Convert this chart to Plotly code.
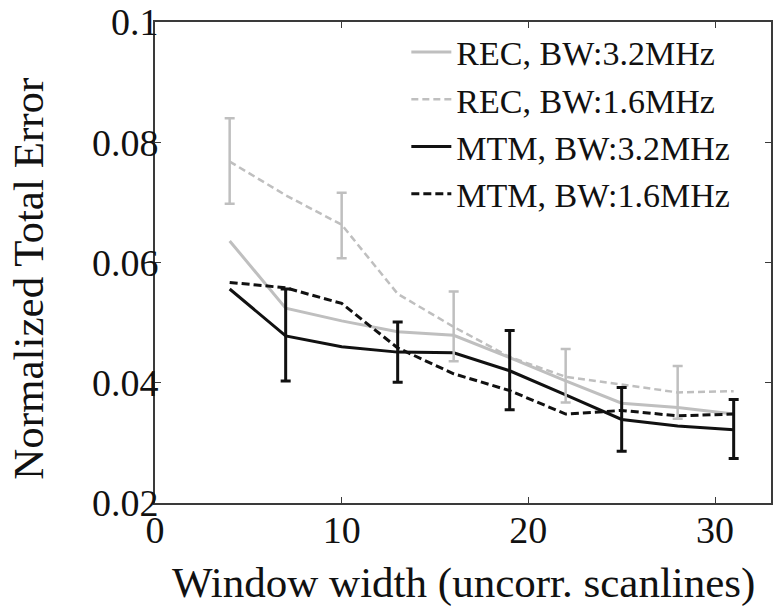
import plotly.graph_objects as go

# Data
window_width = [4, 7, 10, 13, 16, 19, 22, 25, 28, 31]
rec_32 = [0.0636, 0.0524, 0.0503, 0.0485, 0.0479, 0.0442, 0.0403, 0.0366, 0.0359, 0.0348]
rec_16 = [0.0768, 0.0712, 0.0663, 0.0548, 0.0493, 0.0443, 0.0410, 0.0397, 0.0384, 0.0386]
mtm_32 = [0.0556, 0.0478, 0.0460, 0.0451, 0.0450, 0.0420, 0.0380, 0.0339, 0.0328, 0.0322]
mtm_16 = [0.0567, 0.0558, 0.0532, 0.0458, 0.0415, 0.0387, 0.0348, 0.0354, 0.0345, 0.0348]

# Error bar ranges (absolute low / high)
rec_16_err_x = [4, 10, 16, 22, 28]
rec_16_err_lo = [0.0698, 0.0607, 0.0436, 0.0367, 0.0340]
rec_16_err_hi = [0.0840, 0.0716, 0.0552, 0.0456, 0.0428]
mtm_32_err_x = [7, 13, 19, 25, 31]
mtm_32_err_lo = [0.0403, 0.0401, 0.0355, 0.0286, 0.0274]
mtm_32_err_hi = [0.0556, 0.0501, 0.0487, 0.0392, 0.0372]

x_ticks = [0, 10, 20, 30]
y_ticks = [0.02, 0.04, 0.06, 0.08, 0.1]
y_tick_text = ["0.02", "0.04", "0.06", "0.08", "0.1"]

legend_names = ["REC, BW:3.2MHz", "REC, BW:1.6MHz", "MTM, BW:3.2MHz", "MTM, BW:1.6MHz"]
x_title = "Window width (uncorr. scanlines)"
y_title = "Normalized Total Error"

GRAY = "#bfbfbf"
BLACK = "#111111"
FONT = "Liberation Serif"


def centers(err_x, series):
    return [series[window_width.index(v)] for v in err_x]


fig = go.Figure()

rec16_c = centers(rec_16_err_x, rec_16)
mtm32_c = centers(mtm_32_err_x, mtm_32)

fig.add_trace(go.Scatter(x=window_width, y=rec_32, mode="lines", name=legend_names[0],
                         line=dict(color=GRAY, width=3)))
fig.add_trace(go.Scatter(x=window_width, y=rec_16, mode="lines", name=legend_names[1],
                         line=dict(color=GRAY, width=2.5, dash="7px,4px")))
fig.add_trace(go.Scatter(x=window_width, y=mtm_32, mode="lines", name=legend_names[2],
                         line=dict(color=BLACK, width=3)))
fig.add_trace(go.Scatter(x=window_width, y=mtm_16, mode="lines", name=legend_names[3],
                         line=dict(color=BLACK, width=3, dash="8px,4px")))

# error bars
fig.add_trace(go.Scatter(
    x=rec_16_err_x, y=rec16_c, mode="markers", showlegend=False,
    marker=dict(size=1, color="rgba(0,0,0,0)"),
    error_y=dict(type="data", symmetric=False,
                 array=[h - c for h, c in zip(rec_16_err_hi, rec16_c)],
                 arrayminus=[c - l for l, c in zip(rec_16_err_lo, rec16_c)],
                 color=GRAY, thickness=2.5, width=5)))
fig.add_trace(go.Scatter(
    x=mtm_32_err_x, y=mtm32_c, mode="markers", showlegend=False,
    marker=dict(size=1, color="rgba(0,0,0,0)"),
    error_y=dict(type="data", symmetric=False,
                 array=[h - c for h, c in zip(mtm_32_err_hi, mtm32_c)],
                 arrayminus=[c - l for l, c in zip(mtm_32_err_lo, mtm32_c)],
                 color=BLACK, thickness=3, width=5)))

axis_common = dict(
    showgrid=False, zeroline=False, showline=True, mirror="ticks",
    linecolor="#3a3a3a", linewidth=1.8, ticks="inside", ticklen=6,
    tickwidth=1.2, tickcolor="#3a3a3a", ticklabeloverflow="allow",
    tickfont=dict(family=FONT, size=38, color="#111111"),
)

fig.update_layout(
    width=774, height=606,
    margin=dict(l=155, r=1, t=18, b=103),
    paper_bgcolor="white", plot_bgcolor="white",
    font=dict(family=FONT, color="#111111"),
    xaxis=dict(range=[0, 33], tickvals=x_ticks, ticklabelstandoff=-8, **axis_common),
    yaxis=dict(range=[0.02, 0.10002], tickvals=y_ticks, ticktext=y_tick_text,
               ticklabelstandoff=-13, **axis_common),
    legend=dict(x=0.408, y=0.997, xanchor="left", yanchor="top",
                bgcolor="rgba(255,255,255,0)", borderwidth=0,
                font=dict(family=FONT, size=34, color="#111111"),
                tracegroupgap=0, itemwidth=40),
    showlegend=True,
    annotations=[
        dict(text=x_title, xref="paper", yref="paper", x=0.5, y=-0.167,
             xanchor="center", yanchor="middle", showarrow=False,
             font=dict(family=FONT, size=43, color="#111111")),
        dict(text=y_title, xref="paper", yref="paper", x=-0.2055, y=0.467,
             xanchor="center", yanchor="middle", showarrow=False, textangle=-90,
             font=dict(family=FONT, size=43, color="#111111")),
    ],
)

fig.write_html("out.html")
